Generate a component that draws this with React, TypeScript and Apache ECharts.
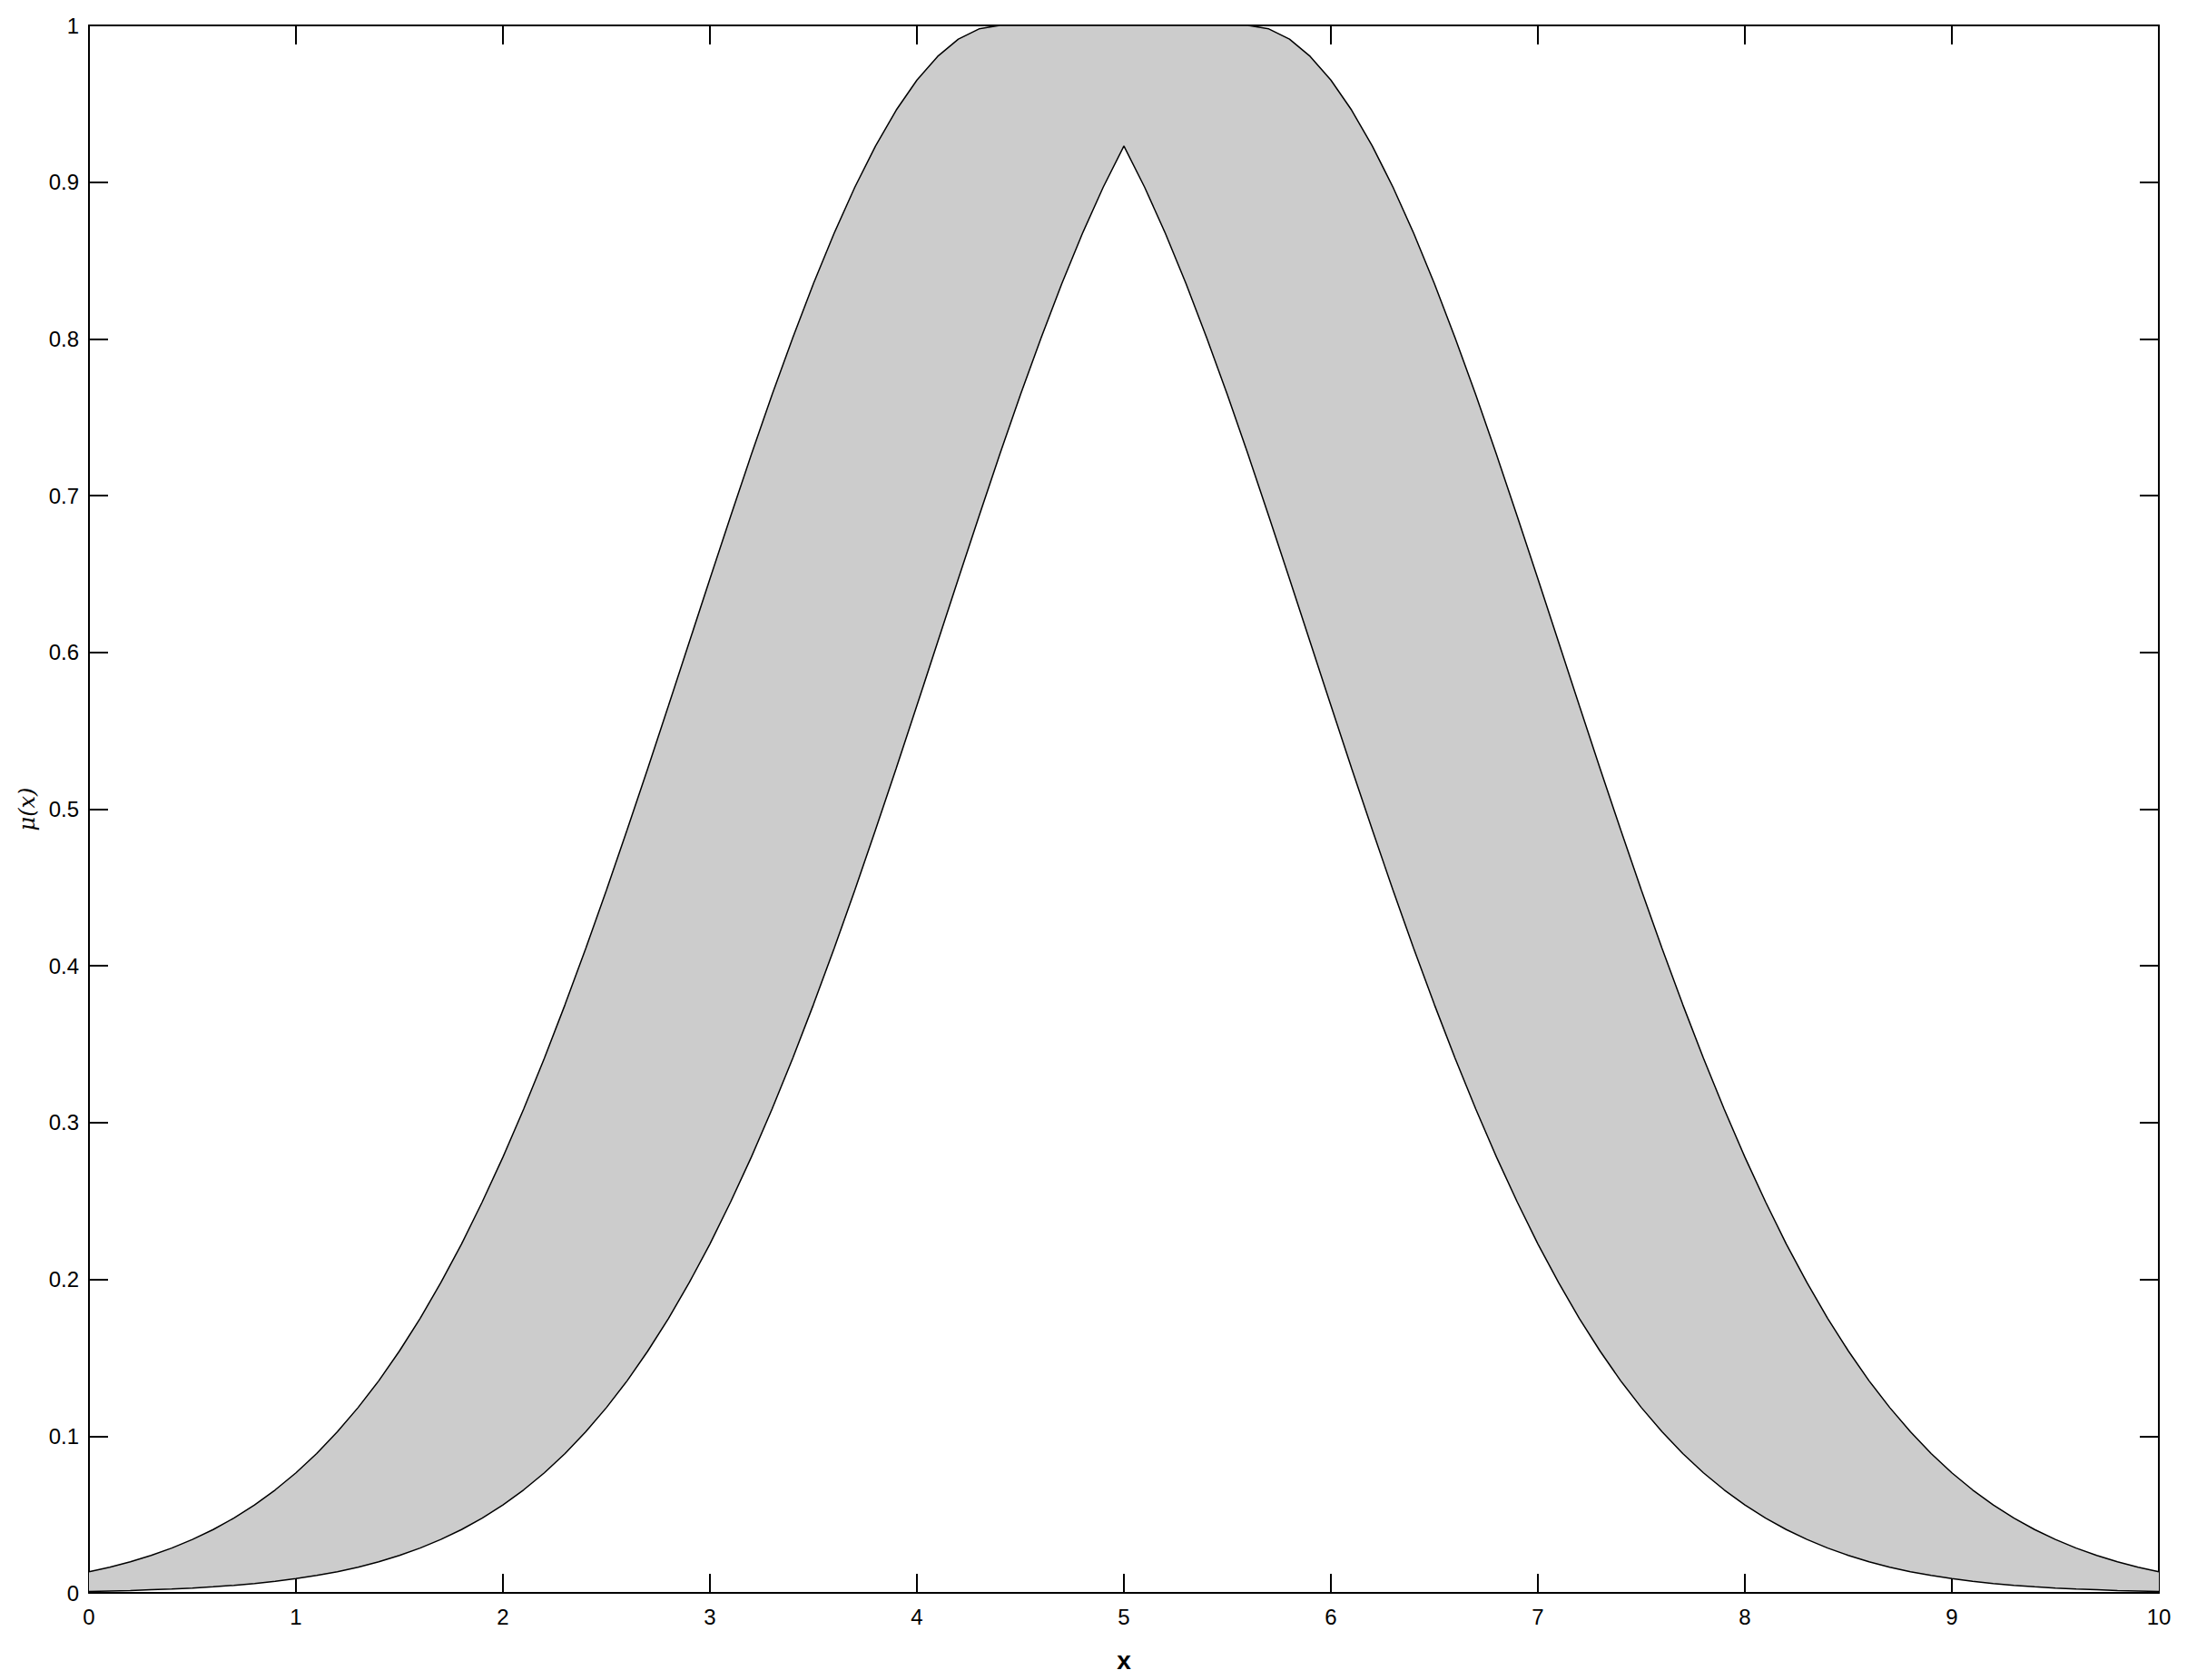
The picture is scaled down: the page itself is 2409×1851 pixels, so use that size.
import React, { useEffect, useRef } from "react";
import * as echarts from "echarts";

// x grid: 0 .. 10, step 0.1
const xs: string[] = Array.from({ length: 101 }, (_, i) => String(i / 10));

// Upper membership function values
const upper: number[] = [
  0.0135, 0.0164, 0.0198, 0.0239, 0.0286, 0.0341, 0.0404, 0.0477, 0.0561, 0.0657,
  0.0766, 0.0889, 0.1028, 0.1182, 0.1353, 0.1543, 0.1751, 0.1979, 0.2226, 0.2494,
  0.2780, 0.3086, 0.3411, 0.3753, 0.4111, 0.4483, 0.4868, 0.5261, 0.5661, 0.6065,
  0.6469, 0.6869, 0.7262, 0.7643, 0.8007, 0.8353, 0.8674, 0.8968, 0.9231, 0.9460,
  0.9651, 0.9802, 0.9912, 0.9978,
  1, 1, 1, 1, 1, 1, 1, 1, 1, 1, 1, 1, 1,
  0.9978, 0.9912, 0.9802, 0.9651, 0.9460, 0.9231, 0.8968, 0.8674, 0.8353, 0.8007,
  0.7643, 0.7262, 0.6869, 0.6469, 0.6065, 0.5661, 0.5261, 0.4868, 0.4483, 0.4111,
  0.3753, 0.3411, 0.3086, 0.2780, 0.2494, 0.2226, 0.1979, 0.1751, 0.1543, 0.1353,
  0.1182, 0.1028, 0.0889, 0.0766, 0.0657, 0.0561, 0.0477, 0.0404, 0.0341, 0.0286,
  0.0239, 0.0198, 0.0164, 0.0135,
];

// Lower membership function values
const lower: number[] = [
  0.0009, 0.0012, 0.0015, 0.0020, 0.0025, 0.0031, 0.0039, 0.0048, 0.0060, 0.0074,
  0.0091, 0.0111, 0.0135, 0.0164, 0.0198, 0.0239, 0.0286, 0.0341, 0.0404, 0.0477,
  0.0561, 0.0657, 0.0766, 0.0889, 0.1028, 0.1182, 0.1353, 0.1543, 0.1751, 0.1979,
  0.2226, 0.2494, 0.2780, 0.3086, 0.3411, 0.3753, 0.4111, 0.4483, 0.4868, 0.5261,
  0.5661, 0.6065, 0.6469, 0.6869, 0.7262, 0.7643, 0.8007, 0.8353, 0.8674, 0.8968,
  0.9231,
  0.8968, 0.8674, 0.8353, 0.8007, 0.7643, 0.7262, 0.6869, 0.6469, 0.6065, 0.5661,
  0.5261, 0.4868, 0.4483, 0.4111, 0.3753, 0.3411, 0.3086, 0.2780, 0.2494, 0.2226,
  0.1979, 0.1751, 0.1543, 0.1353, 0.1182, 0.1028, 0.0889, 0.0766, 0.0657, 0.0561,
  0.0477, 0.0404, 0.0341, 0.0286, 0.0239, 0.0198, 0.0164, 0.0135, 0.0111, 0.0091,
  0.0074, 0.0060, 0.0048, 0.0039, 0.0031, 0.0025, 0.0020, 0.0015, 0.0012, 0.0009,
];

const X_NAME = "x";
const Y_NAME = "μ(x)";

export default function App() {
  const ref = useRef<HTMLDivElement>(null);
  useEffect(() => {
    if (!ref.current) return;
    const chart = echarts.init(ref.current, undefined, { renderer: "svg" });
    const axisLine = { show: true, onZero: false, lineStyle: { color: "#000", width: 2 } };
    const every10 = (idx: number) => idx % 10 === 0;
    const xTick = { show: true, inside: true, length: 21, interval: every10, alignWithLabel: true, lineStyle: { color: "#000", width: 2 } };
    const yTick = { show: true, inside: true, length: 21, lineStyle: { color: "#000", width: 2 } };
    const labelStyle = { color: "#000", fontSize: 24, fontFamily: "Liberation Sans" };
    chart.setOption({
      animation: false,
      backgroundColor: "#fff",
      grid: { left: 98, top: 28, width: 2280, height: 1727, containLabel: false },
      xAxis: [
        {
          type: "category", data: xs, boundaryGap: false, position: "bottom",
          axisLine, axisTick: xTick, splitLine: { show: false },
          axisLabel: { ...labelStyle, margin: 14, interval: every10, formatter: (v: string) => String(Number(v)) },
          name: X_NAME, nameLocation: "middle", nameGap: 60,
          nameTextStyle: { color: "#000", fontSize: 28, fontWeight: "bold", fontFamily: "Liberation Sans" },
        },
        {
          type: "category", data: xs, boundaryGap: false, position: "top",
          axisLine, axisTick: xTick, splitLine: { show: false }, axisLabel: { show: false },
        },
      ],
      yAxis: [
        {
          type: "value", min: 0, max: 1, interval: 0.1, position: "left",
          axisLine, axisTick: yTick, splitLine: { show: false },
          axisLabel: { ...labelStyle, margin: 11 },
          name: Y_NAME, nameLocation: "middle", nameGap: 56, nameRotate: 90,
          nameTextStyle: { color: "#000", fontSize: 24, fontStyle: "italic", fontFamily: "DejaVu Serif" },
        },
        {
          type: "value", min: 0, max: 1, interval: 0.1, position: "right",
          axisLine, axisTick: yTick, splitLine: { show: false }, axisLabel: { show: false },
        },
      ],
      series: [
        {
          type: "line", name: "lower", stack: "band", symbol: "none", z: 4,
          data: lower,
          lineStyle: { color: "#000", width: 1.5 },
        },
        {
          type: "line", name: "band", stack: "band", symbol: "none", z: 3,
          data: upper.map((u, i) => +(u - lower[i]).toFixed(5)),
          lineStyle: { color: "#000", width: 1.5 },
          areaStyle: { color: "#cccccc", opacity: 1 },
        },
      ],
    });
    return () => chart.dispose();
  }, []);
  return (
    <div
      ref={ref}
      style={{ position: "absolute", left: 0, top: 0, width: 2409, height: 1851 }}
    />
  );
}
